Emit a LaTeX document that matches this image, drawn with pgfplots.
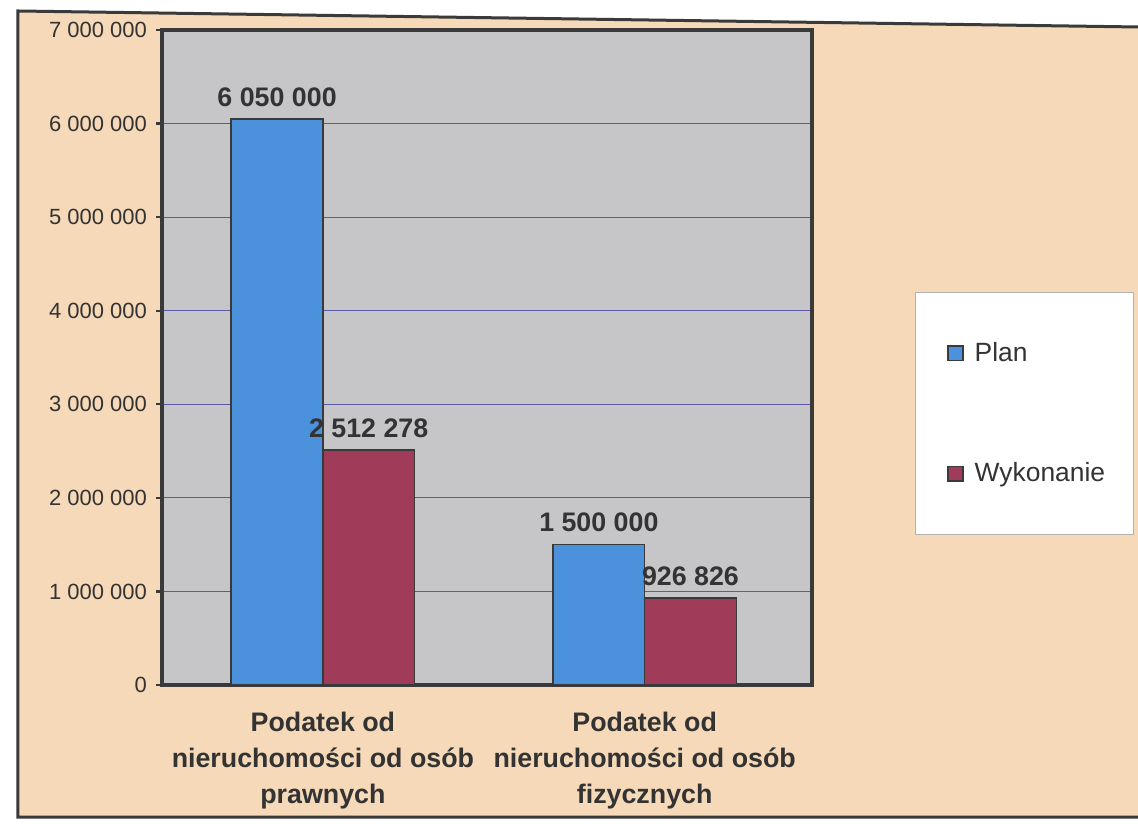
\documentclass[border=0pt]{standalone}
\usepackage{fontspec}
\setmainfont{Liberation Sans}
\usepackage{pgfplots}
\pgfplotsset{compat=1.18}
\definecolor{peach}{HTML}{F6D9B8}
\definecolor{plotgray}{HTML}{C6C5C8}
\definecolor{blueb}{HTML}{4C91DB}
\definecolor{maroonb}{HTML}{A03C5A}
\definecolor{framec}{HTML}{3A3A3A}
\definecolor{gridc}{HTML}{5A5AA8}
\definecolor{textc}{HTML}{333333}
\begin{document}
\begin{tikzpicture}[x=1pt,y=1pt]
\begin{scope}[shift={(-81,-69.5)}]
\fill[white] (0,0) rectangle (569,412);
\fill[peach] (9,3.5) -- (569,3.5) -- (569,398.5) -- (9,406.5) -- cycle;
\draw[framec, line width=1.5pt] (569,398.5) -- (9,406.5) -- (9,3.5) -- (569,3.5);
\end{scope}
\begin{axis}[
  scale only axis, width=325pt, height=327.5pt,
  xmin=-0.5, xmax=1.52, ymin=0, ymax=7000000,
  axis background/.style={fill=plotgray},
  axis line style={draw=framec, line width=1.8pt},
  ymajorgrids, grid style={draw=gridc, line width=0.4pt},
  scaled y ticks=false,
  ytick={0,1000000,2000000,3000000,4000000,5000000,6000000,7000000},
  yticklabels={0,1 000 000,2 000 000,3 000 000,4 000 000,5 000 000,6 000 000,7 000 000},
  ytick pos=left, tick align=outside, major tick length=3pt,
  ytick style={draw=framec, line width=1.2pt},
  yticklabel style={font=\fontsize{11}{13}\selectfont, text=textc, xshift=-1pt},
  xtick={0,1},
  xticklabels={{Podatek od\\nieruchomości od osób\\prawnych},{Podatek od\\nieruchomości od osób\\fizycznych}},
  xtick style={draw=none},
  xticklabel style={align=center, font=\bfseries\fontsize{13.4}{18}\selectfont, text=textc, yshift=-7pt},
  nodes near coords,
  point meta=explicit symbolic,
  nodes near coords style={font=\bfseries\fontsize{13.4}{16}\selectfont, text=textc, anchor=south, yshift=2.5pt},
  legend image code/.code={\path (0pt,0pt) (15pt,0pt); \draw[#1] (4pt,-3.6pt) rectangle (11.5pt,3.6pt);},
  legend style={at={(1.158,0.6)}, anchor=north west, draw=gray!60, fill=white, line width=0.4pt,
    inner xsep=12pt, inner ysep=23pt, row sep=45pt,
    font=\fontsize{13.2}{15}\selectfont, text=textc},
  legend cell align=left,
]
\addplot[ybar, bar width=0.285, bar shift=-0.1425, fill=blueb, draw=framec, line width=0.8pt,
  every node near coord/.append style={xshift=-22.9pt}]
  coordinates {(0,6050000)[6 050 000] (1,1500000)[1 500 000]};
\addlegendentry{Plan}
\addplot[ybar, bar width=0.285, bar shift=0.1425, fill=maroonb, draw=framec, line width=0.8pt,
  every node near coord/.append style={xshift=22.9pt}]
  coordinates {(0,2512278)[2 512 278] (1,926826)[926 826]};
\addlegendentry{Wykonanie}
\end{axis}
\pgfresetboundingbox
\path[use as bounding box] (-81,-69.5) rectangle (488,342.5);
\end{tikzpicture}
\end{document}
